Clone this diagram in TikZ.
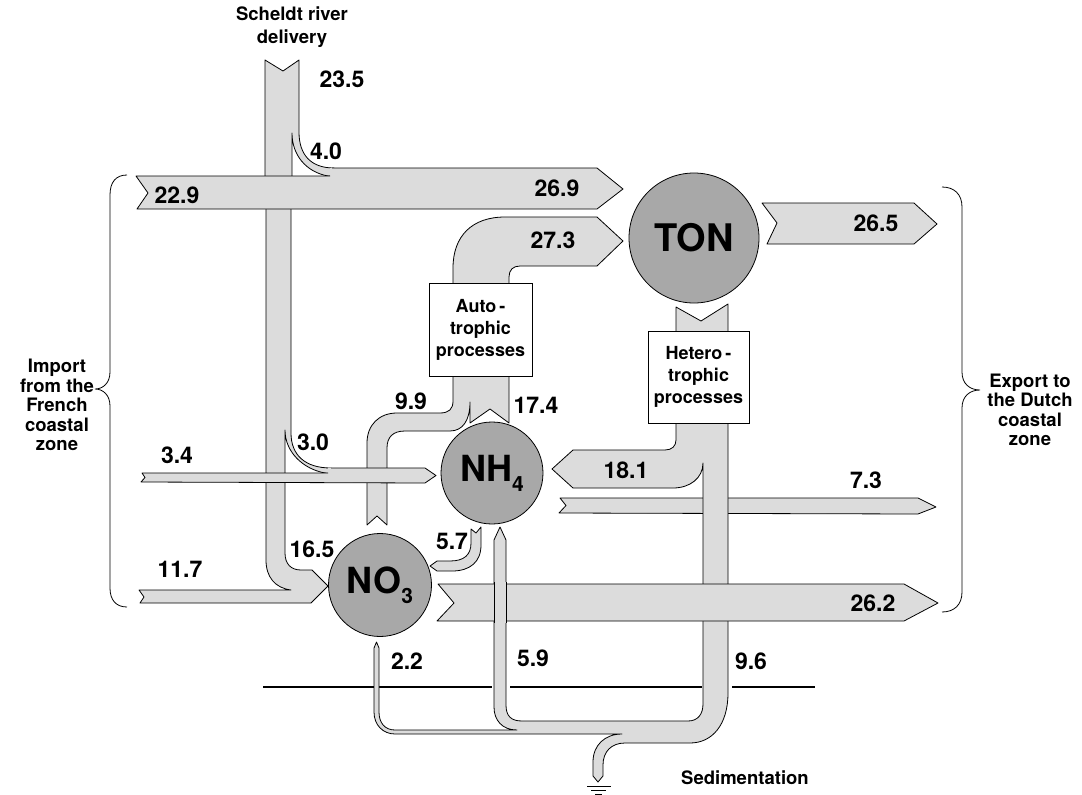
\documentclass[tikz,border=0pt]{standalone}
\usepackage{fontspec}
\setmainfont{TeX Gyre Heros}
\usepackage{tikz}
\definecolor{bandgray}{RGB}{220,220,220}
\definecolor{poolgray}{RGB}{168,168,168}

\begin{document}
\begin{tikzpicture}[x=1pt,y=-1pt]
\tikzstyle{every node}+=[inner sep=0pt]
\tikzstyle{band}=[fill=bandgray,draw=black,line width=0.8pt,line join=round]
\tikzstyle{bandfill}=[fill=bandgray]
\tikzstyle{bandedge}=[draw=black,line width=0.8pt,line join=round]
\tikzstyle{pool}=[circle,fill=poolgray,draw=black,line width=0.8pt,font=\fontsize{36}{38}\selectfont\bfseries]
\tikzstyle{procbox}=[rectangle,fill=white,draw=black,line width=0.8pt,align=center,font=\fontsize{18}{22}\selectfont\bfseries]
\tikzstyle{num}=[font=\fontsize{23}{26}\selectfont\bfseries]
\tikzstyle{zone}=[align=center,font=\fontsize{18.5}{19.5}\selectfont\bfseries]
\useasboundingbox (0,0) rectangle (1082,795);

\draw[band] (265,60) -- (283,71) -- (299,60) -- (299,132) .. controls (299,155) and (311,168) .. (334,168) -- (334,176) -- (328,176) .. controls (306,172) and (292,155) .. (292,133) -- (292,180) -- (265,180) -- cycle;
\draw[band] (266,200) -- (291,200) -- (291,433) .. controls (291,455) and (305,468) .. (331,468) -- (331,474) -- (325,473) .. controls (303,469) and (285,452) .. (285,430) -- (285,553) .. controls (285,564) and (291,570) .. (301,570) -- (312,570) -- (328,586) -- (311,603) -- (140,603) -- (144,597) -- (139,590) -- (291,590) .. controls (275,588) and (266,577) .. (266,560) -- cycle;

\fill[bandfill] (136,176) -- (330,176) -- (330,168) -- (597,168) -- (623,189) -- (597,209) -- (137,209) -- (148,193) -- cycle;
\draw[bandedge] (330,176) -- (136,176) -- (148,193) -- (137,209) -- (597,209) -- (623,189) -- (597,168) -- (332,168);

\draw[band] (453,290) -- (453,268) .. controls (453,236) and (472,217) .. (505,217) -- (597,217) -- (623,241) -- (597,266) -- (520,266) .. controls (513,266) and (509,270) .. (509,277) -- (509,290) -- cycle;
\draw[band] (367,525) -- (377,516) -- (387,525) -- (387,448) .. controls (387,437) and (393,431) .. (405,431) -- (450,431) .. controls (463,431) and (470,420) .. (470,402) -- (470,423) -- (490,409) -- (509,423) -- (509,370) -- (453,370) -- (453,401) .. controls (453,409) and (449,413) .. (440,413) -- (397,413) .. controls (379,413) and (367,425) .. (367,443) -- cycle;

\fill[bandfill] (142,473) -- (328,473) -- (328,468) -- (425,468) -- (436,475.5) -- (425,483) -- (141,482) -- (145,477.5) -- cycle;
\draw[bandedge] (328,473) -- (142,473) -- (145,477.5) -- (141,482) -- (425,483) -- (436,475.5) -- (425,468) -- (331,468);

\draw[band] (560,498) -- (918,498) -- (936,507) -- (918,514) -- (559,513) -- (566,505.5) -- cycle;
\draw[band] (676,307) -- (701,321) -- (728,304) -- (728,600) -- (703,600) -- (703,463) .. controls (703,478) and (690,488) .. (673,488) -- (573,488) -- (552,469) -- (573,450) -- (665,450) .. controls (672,450) and (676,446) .. (676,440) -- cycle;

\draw[line width=1.6pt] (263,687) -- (492,687) (510,687) -- (702,687) (732,687) -- (815,687);

\draw[band] (703,595) -- (728,595) -- (728,693) .. controls (728,725) and (712,743) .. (690,743) -- (625,743) .. controls (611,743) and (603,752) .. (603,765) -- (603,776) -- (598,782) -- (593,776) -- (593,762) .. controls (593,745) and (605,734) .. (622,734) -- (395,734) .. controls (383,734) and (374,725) .. (374,712) -- (374,648) -- (376.5,642) -- (379,648) -- (379,712) .. controls (379,723) and (385,730) .. (395,730) -- (517,730) .. controls (502,730) and (494,720) .. (494,707) -- (494,540) -- (500,527) -- (506,540) -- (506,705) .. controls (506,716) and (511,721) .. (522,721) -- (688,721) .. controls (698,721) and (703,714) .. (703,704) -- cycle;
\draw[band] (438,584) -- (904,584) -- (938,603) -- (904,621) -- (437,621) -- (454,603) -- cycle;
\fill[bandfill] (494,582) rectangle (506,623);
\draw[bandedge] (494,582) -- (494,623) (506,582) -- (506,623);
\draw[band] (471,529) -- (476,533) -- (481,527) -- (481,545) .. controls (481,562) and (470,571) .. (452,571) -- (437,571) -- (430,566) -- (437,561) -- (450,561) .. controls (464,561) and (471,555) .. (471,543) -- cycle;
\draw[band] (762,203) -- (914,203) -- (937,224) -- (914,244) -- (767,244) -- (777,223) -- cycle;

\node[pool,minimum size=130pt,font=\fontsize{38}{40}\selectfont\bfseries] (ton) at (694,238) {TON};
\node[pool,minimum size=102pt] (nhfour) at (492,473) {NH\raisebox{-0.28em}{\fontsize{21}{21}\selectfont 4}};
\node[pool,minimum size=103pt] (nothree) at (380,585) {NO\raisebox{-0.28em}{\fontsize{21}{21}\selectfont 3}};
\node[procbox,minimum width=103pt,minimum height=93pt] (auto) at (480.5,329.5) {Auto\,-\\trophic\\processes};
\node[procbox,minimum width=101pt,minimum height=92pt] (hetero) at (698.5,377) {Hetero\,-\\trophic\\processes};

\node[num] (v235) at (342,79) {23.5};
\node[num] (v40) at (326,151) {4.0};
\node[num] (v229) at (177,195) {22.9};
\node[num] (v269) at (557,188) {26.9};
\node[num] (v273) at (553,240) {27.3};
\node[num] (v265) at (876,223) {26.5};
\node[num] (v99) at (411,401) {9.9};
\node[num] (v174) at (536,405) {17.4};
\node[num] (v30) at (313,442) {3.0};
\node[num] (v34) at (177,455) {3.4};
\node[num] (v181) at (626,470) {18.1};
\node[num] (v73) at (866,480) {7.3};
\node[num] (v57) at (452,541) {5.7};
\node[num] (v165) at (312,549) {16.5};
\node[num] (v117) at (180,569) {11.7};
\node[num] (v262) at (873,603) {26.2};
\node[num] (v22) at (407,661) {2.2};
\node[num] (v59) at (533,658) {5.9};
\node[num] (v96) at (751,661) {9.6};

\node[zone,font=\fontsize{18.5}{23}\selectfont\bfseries] (scheldt) at (292,27) {Scheldt river\\delivery};
\node[zone] (import) at (57,405) {Import\\from the\\French\\coastal\\zone};
\node[zone] (export) at (1030,410) {Export to\\the Dutch\\coastal\\zone};
\node[zone] (sedim) at (745,778) {Sedimentation};

\draw[line width=0.8pt] (127,175) .. controls (116,175) and (110,182) .. (110,195) -- (110,372) .. controls (110,383) and (103,389) .. (95,389) .. controls (103,389) and (110,395) .. (110,406) -- (110,588) .. controls (110,600) and (116,607) .. (127,607);
\draw[line width=0.8pt] (942,187) .. controls (954,187) and (962,194) .. (962,207) -- (962,372) .. controls (962,384) and (970,390) .. (980,390) .. controls (970,390) and (962,396) .. (962,408) -- (962,592) .. controls (962,605) and (954,612) .. (942,612);
\draw[line width=0.8pt] (587,786) -- (611,786) (591,790) -- (606,790) (595,794) -- (602,794);
\end{tikzpicture}
\end{document}
